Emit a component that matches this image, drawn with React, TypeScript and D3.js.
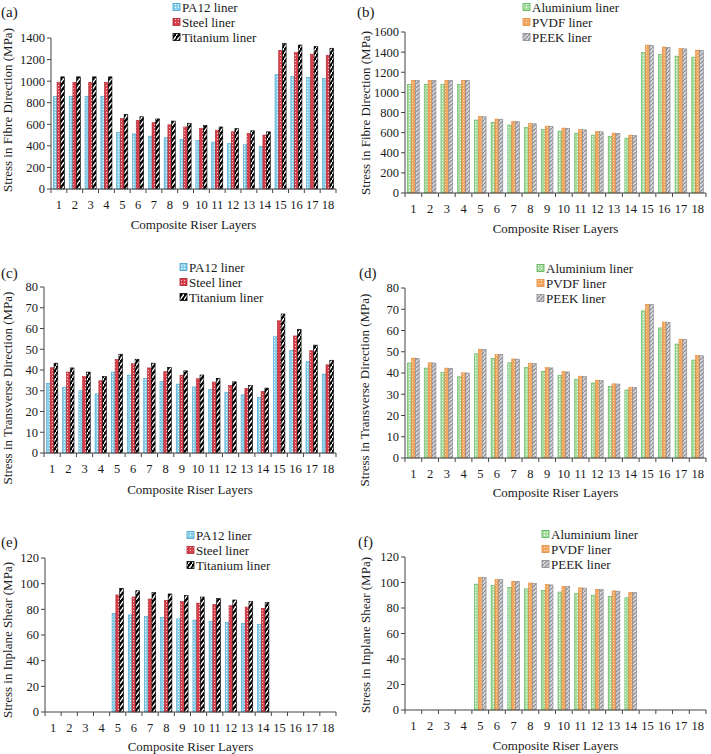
import React from "react";
import * as d3 from "d3";

// riser layers 1..18
const layers = ["1", "2", "3", "4", "5", "6", "7", "8", "9", "10", "11", "12", "13", "14", "15", "16", "17", "18"];

const groupA = ["PA12 liner", "Steel liner", "Titanium liner"];
const groupB = ["Aluminium liner", "PVDF liner", "PEEK liner"];

// fibre direction stress (MPa)
const fibrePA12 = [860, 860, 860, 860, 525, 510, 490, 475, 460, 450, 435, 420, 410, 395, 1060, 1045, 1035, 1025];
const fibreSteel = [990, 990, 990, 990, 655, 635, 615, 595, 575, 560, 545, 530, 515, 500, 1285, 1265, 1250, 1240];
const fibreTitanium = [1040, 1040, 1040, 1040, 690, 670, 650, 630, 610, 590, 575, 560, 540, 530, 1350, 1335, 1320, 1305];
const fibreAlu = [1080, 1080, 1080, 1080, 725, 700, 675, 650, 630, 615, 595, 575, 560, 545, 1395, 1375, 1360, 1350];
const fibrePVDF = [1120, 1120, 1120, 1120, 760, 735, 710, 690, 665, 645, 630, 610, 595, 575, 1470, 1450, 1435, 1420];
const fibrePEEK = [1120, 1120, 1120, 1120, 758, 733, 708, 688, 663, 643, 628, 608, 593, 573, 1468, 1447, 1432, 1418];

// transverse direction stress (MPa)
const transPA12 = [33.5, 31.7, 30, 28.5, 39, 37.5, 36, 34.5, 33.2, 31.8, 30.5, 29.2, 28, 26.8, 56, 49.5, 44, 38];
const transSteel = [41.1, 39, 36.8, 34.8, 45, 43, 41, 39.2, 37.5, 35.8, 34.2, 32.6, 31.1, 29.7, 63.7, 56.4, 49.3, 42.5];
const transTitanium = [43.3, 41, 39, 36.9, 47.6, 45.2, 43.3, 41.3, 39.6, 37.6, 36, 34.3, 32.6, 31.3, 67, 59.6, 52, 44.7];
const transAlu = [44.7, 42.3, 40.2, 38.2, 49, 46.8, 44.8, 42.6, 40.8, 38.8, 37.1, 35.3, 33.6, 32, 69.2, 61.2, 53.6, 46.1];
const transPVDF = [47, 44.8, 42.3, 40.1, 51.2, 48.8, 46.6, 44.6, 42.5, 40.6, 38.5, 36.6, 34.9, 33.3, 72.3, 64, 55.9, 48.2];
const transPEEK = [46.9, 44.7, 42.2, 40, 51.1, 48.7, 46.5, 44.5, 42.4, 40.5, 38.4, 36.5, 34.8, 33.2, 72.2, 63.9, 55.8, 48.1];

// in-plane shear stress (MPa)
const shearPA12 = [0, 0, 0, 0, 76.9, 75.6, 74.6, 73.5, 72.6, 71.6, 70.7, 69.8, 69, 68.2, 0, 0, 0, 0];
const shearSteel = [0, 0, 0, 0, 91.2, 89.6, 88, 87, 86, 84.8, 83.8, 82.8, 81.8, 80.8, 0, 0, 0, 0];
const shearTitanium = [0, 0, 0, 0, 96.4, 94.5, 93, 92, 90.8, 89.6, 88.4, 87.3, 86.3, 85.3, 0, 0, 0, 0];
const shearAlu = [0, 0, 0, 0, 98.7, 97.5, 96.2, 95, 93.7, 92.5, 91.3, 90.1, 89, 88, 0, 0, 0, 0];
const shearPVDF = [0, 0, 0, 0, 104, 102.4, 101, 99.6, 98.3, 97, 95.8, 94.6, 93.4, 92.3, 0, 0, 0, 0];
const shearPEEK = [0, 0, 0, 0, 103.8, 102.2, 100.8, 99.4, 98.1, 96.8, 95.6, 94.4, 93.2, 92.1, 0, 0, 0, 0];

const FONT = "'Liberation Serif', 'Times New Roman', serif";

const styles: Record<string, { fill: string; stroke: string }> = {
  "PA12 liner": { fill: "url(#pa12)", stroke: "#3d9fcc" },
  "Steel liner": { fill: "url(#steel)", stroke: "#a8222e" },
  "Titanium liner": { fill: "url(#titanium)", stroke: "#000" },
  "Aluminium liner": { fill: "url(#alu)", stroke: "#4fae4f" },
  "PVDF liner": { fill: "url(#pvdf)", stroke: "#e08a3a" },
  "PEEK liner": { fill: "url(#peek)", stroke: "#85858c" },
};

type PanelProps = {
  tag: string;
  yTitle: string;
  series: string[];
  values: number[][];
  yMax: number;
  yStep: number;
  left: number;
  right: number;
  bottom: number;
  top: number;
  tagPos: [number, number];
  legendPos: [number, number];
  xTitleY: number;
  yTitlePos: [number, number];
};

function Panel(p: PanelProps) {
  const x = d3.scaleBand<string>().domain(layers).range([p.left, p.right]).paddingInner(0.3).paddingOuter(0.15);
  const sub = d3.scaleBand<string>().domain(p.series).range([0, x.bandwidth()]);
  const y = d3.scaleLinear().domain([0, p.yMax]).range([p.bottom, p.top]);
  const yTicks = d3.range(0, p.yMax + p.yStep / 2, p.yStep);
  const bandW = (p.right - p.left) / layers.length;
  const axisColor = "#444";

  return (
    <g fontFamily={FONT} fill="#1a1a1a">
      <text x={p.tagPos[0]} y={p.tagPos[1]} fontSize={15}>({p.tag})</text>

      {p.series.map((s, i) =>
        layers.map((l, j) => {
          const v = p.values[i][j];
          if (!v) return null;
          return (
            <rect
              key={s + l}
              x={(x(l) as number) + (sub(s) as number)}
              y={y(v)}
              width={sub.bandwidth()}
              height={y(0) - y(v)}
              fill={styles[s].fill}
              stroke={styles[s].stroke}
              strokeWidth={0.6}
            />
          );
        })
      )}

      {/* y axis */}
      <line x1={p.left} x2={p.left} y1={p.bottom} y2={p.top} stroke={axisColor} strokeWidth={1} />
      {yTicks.map((t) => (
        <g key={t}>
          <line x1={p.left - 4} x2={p.left} y1={y(t)} y2={y(t)} stroke={axisColor} />
          <text x={p.left - 6} y={y(t)} dy="0.35em" textAnchor="end" fontSize={12.5}>{t}</text>
        </g>
      ))}

      {/* x axis */}
      <line x1={p.left} x2={p.right} y1={p.bottom} y2={p.bottom} stroke={axisColor} strokeWidth={1} />
      {d3.range(layers.length + 1).map((k) => (
        <line key={k} x1={p.left + k * bandW} x2={p.left + k * bandW} y1={p.bottom} y2={p.bottom + 4} stroke={axisColor} />
      ))}
      {layers.map((l) => (
        <text key={l} x={(x(l) as number) + x.bandwidth() / 2} y={p.bottom + 16} dy="0.35em" textAnchor="middle" fontSize={12.5}>{l}</text>
      ))}
      <text x={(p.left + p.right) / 2} y={p.xTitleY} dy="0.35em" textAnchor="middle" fontSize={13}>Composite Riser Layers</text>
      <text
        transform={`translate(${p.yTitlePos[0]},${p.yTitlePos[1]}) rotate(-90)`}
        dy="0.35em"
        textAnchor="middle"
        fontSize={13}
      >
        {p.yTitle}
      </text>

      {/* legend */}
      {p.series.map((s, i) => {
        const ly = p.legendPos[1] + i * 15;
        return (
          <g key={s}>
            <rect x={p.legendPos[0]} y={ly - 3.5} width={7} height={7} fill={styles[s].fill} stroke={styles[s].stroke} strokeWidth={0.8} />
            <text x={p.legendPos[0] + 9} y={ly} dy="0.35em" fontSize={13}>{s}</text>
          </g>
        );
      })}
    </g>
  );
}

export default function App() {
  return (
    <svg width={711} height={754} style={{ position: "absolute", left: 0, top: 0, background: "#fff" }}>
      <defs>
        <pattern id="pa12" width={3} height={3} patternUnits="userSpaceOnUse">
          <rect width={3} height={3} fill="#8cd0ea" />
          <rect x={1} y={1} width={1} height={1} fill="#fff" />
        </pattern>
        <pattern id="steel" width={3} height={3} patternUnits="userSpaceOnUse">
          <rect width={3} height={3} fill="#d8404c" />
          <rect x={1} y={1} width={1} height={1} fill="#fff" opacity={0.75} />
        </pattern>
        <pattern id="titanium" width={4} height={6} patternUnits="userSpaceOnUse">
          <rect width={4} height={6} fill="#000" />
          <path d="M-1,7 L5,-1" stroke="#fff" strokeWidth={1.4} />
        </pattern>
        <pattern id="alu" width={3} height={3} patternUnits="userSpaceOnUse">
          <rect width={3} height={3} fill="#a9dca0" />
          <rect x={1} y={1} width={1} height={1} fill="#fff" />
        </pattern>
        <pattern id="pvdf" width={3} height={3} patternUnits="userSpaceOnUse">
          <rect width={3} height={3} fill="#f2a862" />
          <rect x={1} y={1} width={1} height={1} fill="#fbd9b5" />
        </pattern>
        <pattern id="peek" width={4} height={4} patternUnits="userSpaceOnUse">
          <rect width={4} height={4} fill="#d6d6da" />
          <path d="M-1,5 L5,-1" stroke="#8a8a92" strokeWidth={1.2} />
        </pattern>
      </defs>

      <Panel tag="a" yTitle="Stress in Fibre Direction (MPa)" series={groupA}
        values={[fibrePA12, fibreSteel, fibreTitanium]} yMax={1400} yStep={200}
        left={51} right={336} bottom={189} top={38} tagPos={[1, 17]} legendPos={[173, 7]}
        xTitleY={224} yTitlePos={[7, 110]} />
      <Panel tag="b" yTitle="Stress in Fibre Direction (MPa)" series={groupB}
        values={[fibreAlu, fibrePVDF, fibrePEEK]} yMax={1600} yStep={200}
        left={405} right={706} bottom={193} top={32} tagPos={[357, 17]} legendPos={[523, 7]}
        xTitleY={228} yTitlePos={[365, 113]} />
      <Panel tag="c" yTitle="Stress in Transverse Direction (MPa)" series={groupA}
        values={[transPA12, transSteel, transTitanium]} yMax={80} yStep={10}
        left={44} right={336} bottom={453} top={287} tagPos={[1, 278]} legendPos={[180, 267]}
        xTitleY={489} yTitlePos={[7, 388]} />
      <Panel tag="d" yTitle="Stress in Transverse Direction (MPa)" series={groupB}
        values={[transAlu, transPVDF, transPEEK]} yMax={80} yStep={10}
        left={405} right={706} bottom={458} top={288} tagPos={[359, 278]} legendPos={[537, 268]}
        xTitleY={492} yTitlePos={[364, 390]} />
      <Panel tag="e" yTitle="Stress in Inplane Shear (MPa)" series={groupA}
        values={[shearPA12, shearSteel, shearTitanium]} yMax={120} yStep={20}
        left={45} right={336} bottom={712} top={558} tagPos={[1, 547]} legendPos={[187, 535]}
        xTitleY={746} yTitlePos={[7, 640]} />
      <Panel tag="f" yTitle="Stress in Inplane Shear (MPa)" series={groupB}
        values={[shearAlu, shearPVDF, shearPEEK]} yMax={120} yStep={20}
        left={405} right={706} bottom={710} top={557} tagPos={[358, 547]} legendPos={[542, 534]}
        xTitleY={745} yTitlePos={[365, 635]} />
    </svg>
  );
}
